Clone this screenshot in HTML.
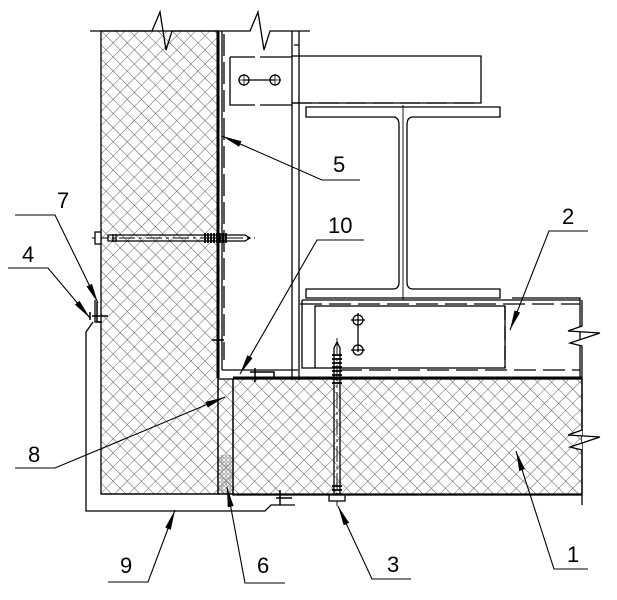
<!DOCTYPE html>
<html><head><meta charset="utf-8"><style>
html,body{margin:0;padding:0;background:#fff;}
svg{display:block;}
text{font-family:"Liberation Sans",sans-serif;font-size:22px;fill:#000;}
</style></head><body>
<svg width="617" height="600" viewBox="0 0 617 600" xmlns="http://www.w3.org/2000/svg">
<defs>
<pattern id="h" width="10" height="10" patternUnits="userSpaceOnUse" patternTransform="rotate(45)">
<path d="M0 0H10M0 0V10" stroke="#555" stroke-width="0.9" fill="none"/>
</pattern>
<pattern id="d" width="4" height="4" patternUnits="userSpaceOnUse">
<circle cx="2" cy="2" r="1.3" fill="none" stroke="#666" stroke-width="0.6"/>
</pattern>
<marker id="a" viewBox="0 0 20 8" refX="20" refY="4" markerWidth="20" markerHeight="8" markerUnits="userSpaceOnUse" orient="auto">
<path d="M0 1L20 4L0 7Z" fill="#000"/>
</marker>
</defs>
<g fill="none" stroke="#000" stroke-width="1.3">
<rect x="101" y="31" width="117" height="463" fill="url(#h)"/>
<path d="M90 31H152L160 12L166 50L172 31H250L258 12L264 50L270 31H310"/>
<line x1="218" y1="31" x2="218" y2="378" stroke-width="3"/>
<line x1="224" y1="34" x2="224" y2="360" stroke-dasharray="22 6"/>
<path d="M292 31V380M299 31V45H294M299 45V380" />
<line x1="222" y1="31" x2="222" y2="370"/>
<path d="M222 370H298"/>
<path d="M230 57H255M260 57H292M230 57V105H255M260 105H292"/>
<line x1="244" y1="80" x2="275" y2="80"/>
<circle cx="244" cy="80" r="5"/><circle cx="275" cy="80" r="5"/>
<path d="M244 74V86M238 80H250M275 74V86M269 80H281" stroke-width="0.8"/>
<path d="M292 56H481V103H292"/>
<line x1="292" y1="103" x2="481" y2="103" stroke-dasharray="20 7"/>
<path d="M306 107H500V117H413Q407 117 407 125V282Q407 289 413 289H500V298H306V289H393Q399 289 399 282V125Q399 117 393 117H306Z"/>
<line x1="403" y1="105" x2="403" y2="300" stroke-width="0.9"/>
<path d="M302 300H580M302 300V368H315"/>
<path d="M512 298H580V378"/>
<rect x="315" y="306" width="190" height="62"/>
<line x1="300" y1="304" x2="580" y2="304" stroke-dasharray="22 7"/>
<line x1="340" y1="370" x2="580" y2="370" stroke-dasharray="22 7"/>
<path d="M505 306V368" stroke-dasharray="14 6"/>
<path d="M358 313V352" />
<circle cx="358" cy="320" r="5"/><circle cx="358" cy="350" r="5"/>
<path d="M351 320H365M351 350H365"/>
<rect x="233" y="379" width="349" height="116" fill="url(#h)"/>
<rect x="218" y="379" width="15" height="115" fill="url(#h)"/>
<rect x="219" y="455" width="13" height="39" fill="url(#d)" stroke="none"/>
<line x1="233" y1="378" x2="582" y2="378" stroke-width="3"/>
<line x1="101" y1="494" x2="582" y2="494"/>
<path d="M582 300V326L568 331L600 333L570 343L582 346V430L568 435L600 437L570 447L582 450V505" fill="#fff"/>
<path d="M93 322L86 332V511H265L271 505H295"/>
<path d="M95 300V322H101"/>
<line x1="92" y1="238" x2="255" y2="238" stroke-dasharray="16 4 3 4" stroke-width="0.9"/>
<path d="M108 235H245L250 238L245 241H108Z"/>
<rect x="95" y="232" width="6" height="12" fill="#fff"/>
<path d="M205 233V243M208 233V243M211 233V243M214 233V243M217 233V243M220 233V243M223 233V243M226 233V243" stroke-width="1.8"/>
<path d="M113 234V242M116 234V242"/>
<line x1="337" y1="338" x2="337" y2="506" stroke-dasharray="16 4 3 4" stroke-width="0.9"/>
<path d="M334 348L337 342L340 348V494H334Z"/>
<path d="M332 355H342M332 359H342M332 363H342M332 367H342M332 371H342M332 375H342M332 379H342M332 383H342M332 486H342M332 490H342" stroke-width="1.8"/>
<rect x="329" y="495" width="16" height="6" fill="#fff"/>
<path d="M97 302V322H102M92 316H108M90 312V320" stroke-width="1.5"/>
<path d="M218 340V356M212 340H224" stroke-width="1.5"/>
<path d="M255 368V382M250 372H262M262 372H274V378" stroke-width="1.5"/>
<path d="M280 490V505M276 498H292" stroke-width="1.5"/>
<g stroke-width="1.1">
<path d="M360 180H322L222 136" marker-end="url(#a)"/>
<path d="M364 240H317L240 374" marker-end="url(#a)"/>
<path d="M588 231H549L510 330" marker-end="url(#a)"/>
<path d="M15 215H55L98 303" marker-end="url(#a)"/>
<path d="M8 268H48L90 318" marker-end="url(#a)"/>
<path d="M15 468H55L225 397" marker-end="url(#a)"/>
<path d="M108 582H148L175 510" marker-end="url(#a)"/>
<path d="M285 583H245L227 487" marker-end="url(#a)"/>
<path d="M411 579H372L338 506" marker-end="url(#a)"/>
<path d="M588 569H554L516 451" marker-end="url(#a)"/>
</g>
</g>
<text x="333" y="172">5</text>
<text x="328" y="233">10</text>
<text x="562" y="224">2</text>
<text x="57" y="208">7</text>
<text x="22" y="262">4</text>
<text x="28" y="462">8</text>
<text x="120" y="573">9</text>
<text x="257" y="573">6</text>
<text x="387" y="572">3</text>
<text x="567" y="562">1</text>
</svg>
</body></html>
